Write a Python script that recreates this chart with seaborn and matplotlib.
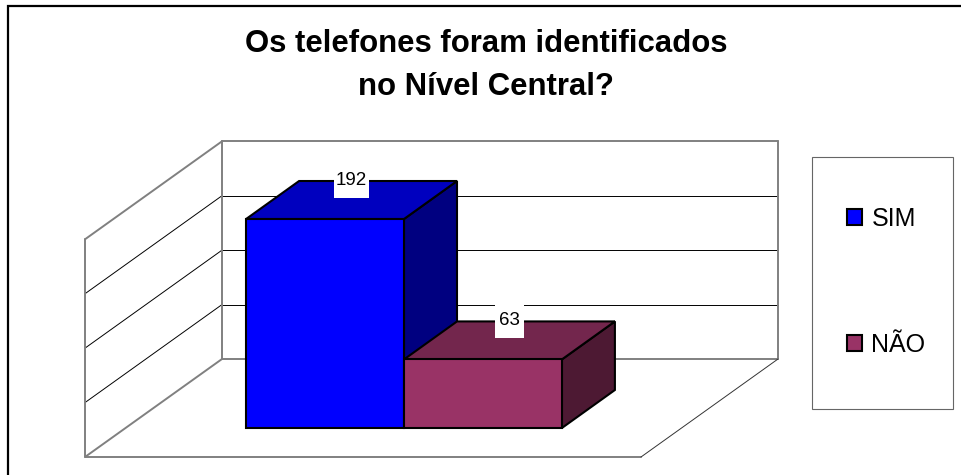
import matplotlib
matplotlib.use("Agg")
import matplotlib.pyplot as plt
from matplotlib.patches import Polygon, Rectangle
import pandas as pd
import seaborn as sns

series = ["SIM", "NÃO"]
values = [192, 63]
colors = ["#0000FF", "#993366"]
top_colors = ["#0000BF", "#73264D"]
side_colors = ["#000080", "#4D1933"]
y_ticks = [0, 50, 100, 150, 200]

W, H = 962, 475
BAR_DEPTH = (53, -38)
WALL_SHIFT = (96, -69)
FLOOR_SHIFT = (-41, 29)
GRAY = "#808080"

sns.set_theme(style="white")
plt.rcParams["font.family"] = ["Liberation Sans", "DejaVu Sans"]

fig = plt.figure(figsize=(W / 100, H / 100), dpi=100)


def axes_px(left, top, right, bottom):
    return [left / W, 1 - bottom / H, (right - left) / W, (bottom - top) / H]


# fundo em pixels: paredes, laterais das barras
bg = fig.add_axes([0, 0, 1, 1], zorder=1)
bg.set_xlim(0, W)
bg.set_ylim(H, 0)
bg.axis("off")

# plano frontal das barras, as barras vem daqui
ax = fig.add_axes(axes_px(126, 210.3, 682, 428), zorder=2)
ax.patch.set_alpha(0)
df = pd.DataFrame({"grupo": [""] * len(values), "serie": series, "valor": values})
sns.barplot(data=df, x="grupo", y="valor", hue="serie", hue_order=series, palette=colors,
            saturation=1, width=0.568, gap=0, ax=ax, edgecolor="black", linewidth=1.5)
ax.set_xlim(-0.5, 0.5)
ax.set_ylim(y_ticks[0], y_ticks[-1])
ax.axis("off")
for bar in ax.patches:
    bar.set_clip_on(False)
handles, labels = ax.get_legend_handles_labels()
ax.get_legend().remove()


def to_px(x, y):
    px, py = ax.transData.transform((x, y))
    return px, H - py


def shifted(pt, shift):
    return pt[0] + shift[0], pt[1] + shift[1]


# paredes e chao
x_lo, x_hi = ax.get_xlim()
for t in y_ticks:
    back_l = shifted(to_px(x_lo, t), WALL_SHIFT)
    back_r = shifted(to_px(x_hi, t), WALL_SHIFT)
    front_l = shifted(to_px(x_lo, t), FLOOR_SHIFT)
    edge = t in (y_ticks[0], y_ticks[-1])
    color, lw = (GRAY, 1.4) if edge else ("black", 0.7)
    bg.plot([back_l[0], back_r[0]], [back_l[1], back_r[1]], color=color, lw=lw, zorder=2)
    bg.plot([front_l[0], back_l[0]], [front_l[1], back_l[1]], color=color, lw=lw, zorder=2)

wall_bl = shifted(to_px(x_lo, 0), WALL_SHIFT)
wall_tl = shifted(to_px(x_lo, y_ticks[-1]), WALL_SHIFT)
wall_br = shifted(to_px(x_hi, 0), WALL_SHIFT)
wall_tr = shifted(to_px(x_hi, y_ticks[-1]), WALL_SHIFT)
floor_l = shifted(to_px(x_lo, 0), FLOOR_SHIFT)
floor_r = shifted(to_px(x_hi, 0), FLOOR_SHIFT)
side_tl = shifted(to_px(x_lo, y_ticks[-1]), FLOOR_SHIFT)
bg.plot([wall_bl[0], wall_tl[0]], [wall_bl[1], wall_tl[1]], color=GRAY, lw=1.4, zorder=2)
bg.plot([wall_br[0], wall_tr[0]], [wall_br[1], wall_tr[1]], color=GRAY, lw=1.4, zorder=2)
bg.plot([side_tl[0], floor_l[0], floor_r[0]], [side_tl[1], floor_l[1], floor_r[1]], color=GRAY, lw=1.4, zorder=2)
bg.plot([floor_r[0], wall_br[0]], [floor_r[1], wall_br[1]], color="#333333", lw=0.7, zorder=2)

# topo e lateral de cada barra
for bar, top_c, side_c in zip(ax.patches, top_colors, side_colors):
    x0, x1 = bar.get_x(), bar.get_x() + bar.get_width()
    h = bar.get_height()
    fl, fr, tl, tr = to_px(x0, h), to_px(x1, h), to_px(x0, 0), to_px(x1, 0)
    top = [fl, fr, shifted(fr, BAR_DEPTH), shifted(fl, BAR_DEPTH)]
    side = [fr, tr, shifted(tr, BAR_DEPTH), shifted(fr, BAR_DEPTH)]
    bg.add_patch(Polygon(side, closed=True, fc=side_c, ec="black", lw=1.5, zorder=3))
    bg.add_patch(Polygon(top, closed=True, fc=top_c, ec="black", lw=1.5, zorder=3))

# camada de cima: rotulos, legenda, titulo, moldura
fg = fig.add_axes([0, 0, 1, 1], zorder=3)
fg.patch.set_alpha(0)
fg.set_xlim(0, W)
fg.set_ylim(H, 0)
fg.axis("off")

for bar, val in zip(ax.patches, values):
    cx = bar.get_x() + bar.get_width() / 2
    px, py = to_px(cx, bar.get_height())
    px, py = shifted((px, py), (BAR_DEPTH[0] / 2, BAR_DEPTH[1] / 2))
    box_w = 35 if val >= 100 else 29
    fg.add_patch(Rectangle((px - box_w / 2, py - 35), box_w, 33, fc="white", ec="none"))
    fg.text(px, py - 20, str(val), ha="center", va="center", fontsize=13.5, color="black")

fg.add_patch(Rectangle((812, 157), 141, 252, fc="white", ec="#666666", lw=0.8))
fg.legend(handles, labels, loc="upper left", bbox_to_anchor=(847 / W, 1 - 207 / H),
          bbox_transform=fig.transFigure, frameon=False, fontsize=18, handlelength=0.6,
          handleheight=0.6, handletextpad=0.38, labelspacing=4.06, borderpad=0, borderaxespad=0,
          labelcolor="black")

fg.text(486, 52, "Os telefones foram identificados", ha="center", va="baseline",
        fontsize=22.4, fontweight="bold", color="black")
fg.text(486, 95, "no Nível Central?", ha="center", va="baseline",
        fontsize=22.4, fontweight="bold", color="black")

fg.plot([W, 8, 8], [6, 6, H], color="black", lw=1.6, solid_joinstyle="miter")

fig.savefig("out.png", dpi=100, facecolor="white")
